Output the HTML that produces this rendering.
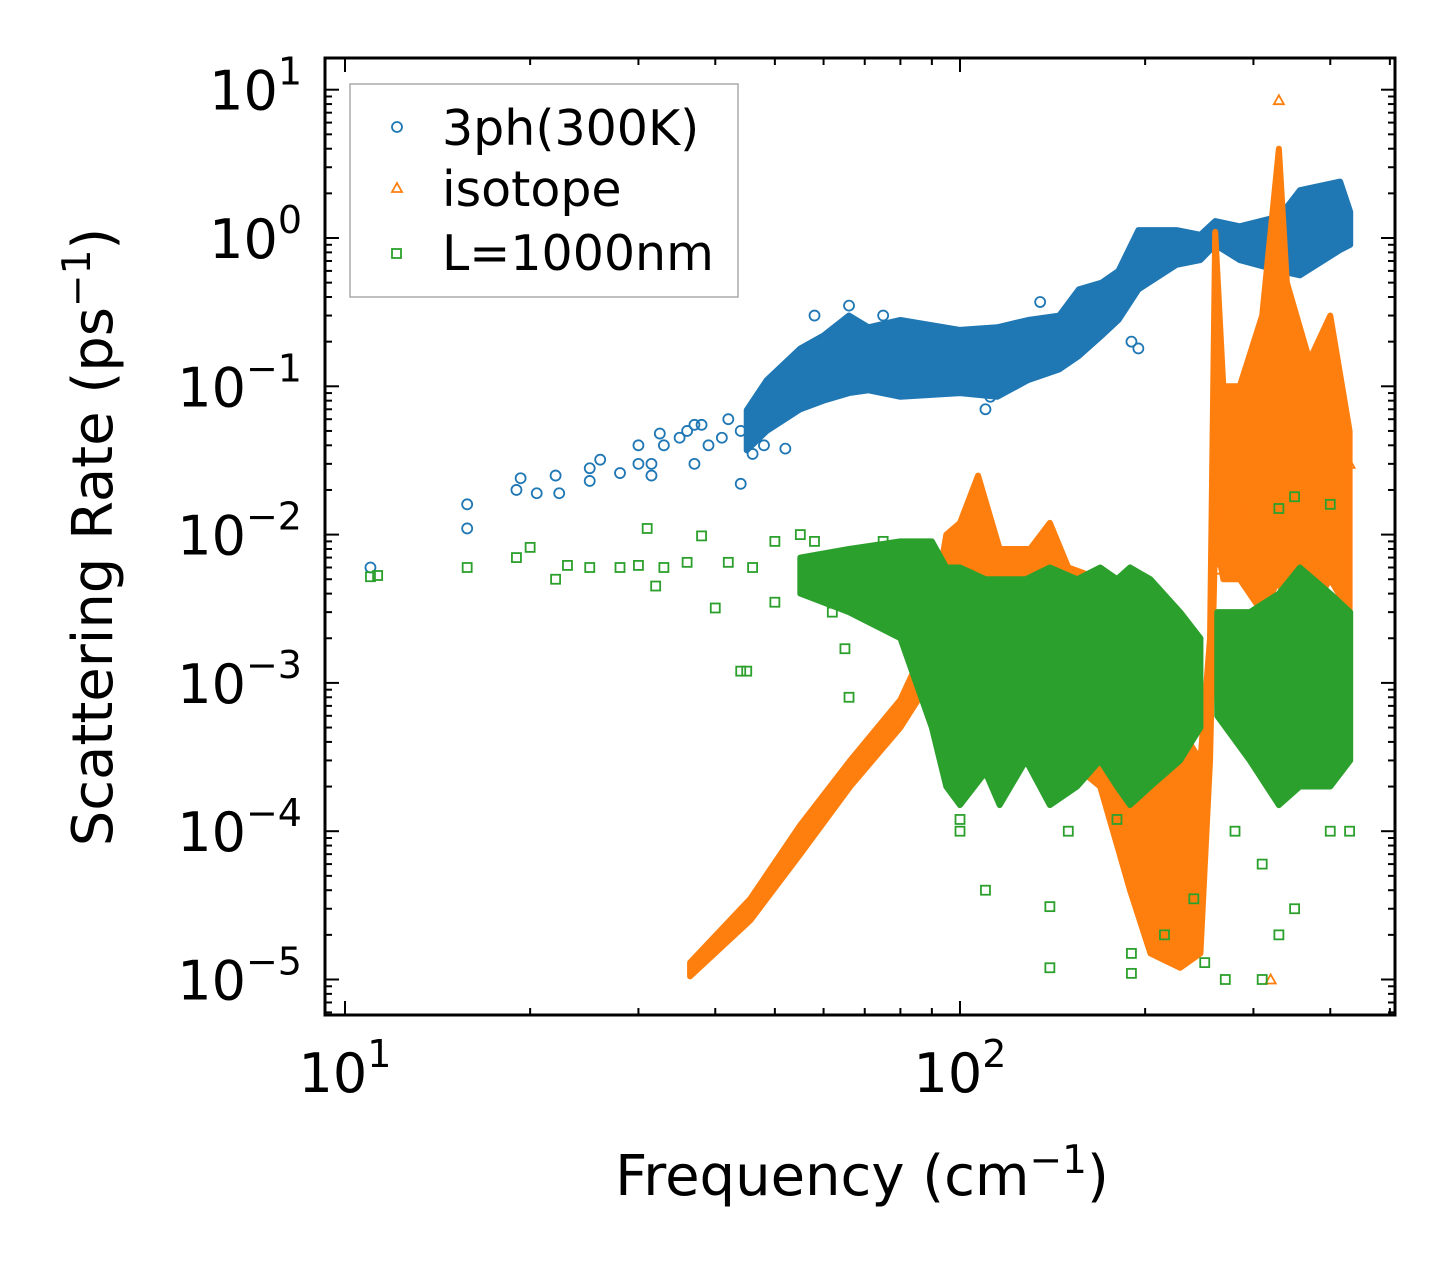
<!DOCTYPE html>
<html><head><meta charset="utf-8"><style>
html,body{margin:0;padding:0;background:#fff;}
svg{display:block;font-family:"DejaVu Sans","Liberation Sans",sans-serif;}
</style></head><body>
<svg id="chart" width="1455" height="1265" viewBox="0 0 1455 1265" xmlns="http://www.w3.org/2000/svg">
<rect x="0" y="0" width="1455" height="1265" fill="#fff"/>
<g id="marks"></g>
<g id="axes"></g>
<text transform="translate(112,537) rotate(-90)" text-anchor="middle" font-size="56">Scattering Rate (ps<tspan dy="-22" font-size="39">−1</tspan><tspan dy="22">)</tspan></text>
<text x="862" y="1195" text-anchor="middle" font-size="56">Frequency (cm<tspan dy="-22" font-size="39">−1</tspan><tspan dy="22">)</tspan></text>
<g>
<rect x="350" y="84" width="388" height="213" fill="#fff" fill-opacity="0.8" stroke="#aaa" stroke-width="1.5"/>
<circle cx="397" cy="127" r="5" fill="none" stroke="#1f77b4" stroke-width="1.8"/>
<text x="442" y="145" font-size="49">3ph(300K)</text>
<path d="M397,183 L402,192 L392,192 Z" fill="none" stroke="#ff7f0e" stroke-width="1.8"/>
<text x="442" y="206" font-size="49">isotope</text>
<rect x="392" y="249" width="9" height="9" fill="none" stroke="#2ca02c" stroke-width="1.8"/>
<text x="442" y="270" font-size="49">L=1000nm</text>
</g>
</svg>
<script>
// ---- data (frequency cm^-1, rate ps^-1) ----
const blueBandF  = [45,48.5,55,60,66,71,80,100,115,129,145,156,170,181,195,225,246,260,285,331,357,415,431];
const blueBandLo = [0.037,0.05,0.07,0.08,0.09,0.094,0.085,0.09,0.085,0.11,0.13,0.16,0.22,0.28,0.45,0.66,0.71,0.9,0.71,0.6,0.56,0.83,0.9];
const blueBandHi = [0.069,0.11,0.18,0.22,0.3,0.25,0.28,0.24,0.25,0.28,0.3,0.45,0.5,0.6,1.13,1.13,1.05,1.3,1.2,1.4,2.1,2.4,1.5];
const orangeBandF  = [36.4,45.6,55,66.3,80,89,95,100,107,116,130,140,150,169,189,204,228,246,255,260,268,285,310,330,340,370,400,430];
const orangeBandLo = [1.05e-5,2.5e-5,7e-5,2e-4,5e-4,1e-3,1e-3,6e-4,1e-3,5e-4,4e-4,5e-4,3e-4,2e-4,4e-5,1.5e-5,1.2e-5,1.5e-5,3e-4,1e-2,5e-3,5e-3,3e-3,5e-3,3e-3,3e-3,5e-3,3e-3];
const orangeBandHi = [1.3e-5,3.5e-5,1.1e-4,3e-4,7.7e-4,2e-3,1e-2,1.2e-2,2.5e-2,8e-3,8e-3,1.2e-2,6e-3,5e-3,1e-3,7e-4,5e-4,3e-4,2e-3,1.1,0.1,0.1,0.3,4,0.5,0.15,0.3,0.05];
const greenBandF  = [55,66,80,90,95,100,110,116,128,140,155,169,180,189,204,228,246];
const greenBandLo = [4e-3,3e-3,2e-3,5e-4,2e-4,1.5e-4,2.5e-4,1.5e-4,3e-4,1.5e-4,2e-4,3e-4,2e-4,1.5e-4,2e-4,3e-4,5e-4];
const greenBandHi = [7e-3,8e-3,9e-3,9e-3,6e-3,6e-3,5e-3,5e-3,5e-3,6e-3,5e-3,6e-3,5e-3,6e-3,5e-3,3e-3,2e-3];
const green2BandF  = [262,296,330,357,400,431];
const green2BandLo = [6e-4,3e-4,1.5e-4,2e-4,2e-4,3e-4];
const green2BandHi = [3e-3,3e-3,4e-3,6e-3,4e-3,3e-3];
const bluePts = [[11,0.006],[15.8,0.016],[15.8,0.011],[19,0.02],[19.3,0.024],[20.5,0.019],[22,0.025],[22.3,0.019],[25,0.028],[25,0.023],[26,0.032],[28,0.026],[30,0.04],[30,0.03],[31.5,0.025],[31.5,0.03],[32.5,0.048],[33,0.04],[35,0.045],[36,0.05],[37,0.03],[37,0.055],[38,0.055],[39,0.04],[41,0.045],[42,0.06],[44,0.022],[44,0.05],[46,0.035],[48,0.04],[50,0.085],[52,0.1],[52,0.038],[58,0.3],[66,0.35],[75,0.3],[135,0.37],[190,0.2],[195,0.18],[110,0.07],[112,0.085]];
const greenPts = [[11,0.0052],[11.3,0.0053],[15.8,0.006],[19,0.007],[20,0.0082],[22,0.005],[23,0.0062],[25,0.006],[28,0.006],[30,0.0062],[31,0.011],[32,0.0045],[33,0.006],[36,0.0065],[38,0.0098],[40,0.0032],[42,0.0065],[44,0.0012],[45,0.0012],[46,0.006],[50,0.009],[50,0.0035],[55,0.01],[58,0.009],[62,0.003],[65,0.0017],[66,0.0008],[70,0.0045],[75,0.009],[100,0.00012],[110,0.00004],[140,0.000031],[140,0.000012],[190,0.000015],[190,0.000011],[215,0.00002],[240,0.000035],[250,0.000013],[270,0.00001],[310,0.00001],[330,0.00002],[350,0.00003],[400,0.0001],[430,0.0001],[330,0.015],[350,0.018],[400,0.016],[100,0.0001],[150,0.0001],[180,0.00012],[280,0.0001],[310,0.00006]];
const orangePts = [[260,0.025],[262,0.015],[262,0.0058],[290,0.015],[320,0.00001],[400,0.02],[430,0.03],[330,8.5],[150,0.0058],[205,0.0007]];
const yTickExp = [1,0,-1,-2,-3,-4,-5];
const xTickExp = [1,2];

// ---- axes functions ----
const L=325,R=1395,T=58,B=1015;
const xScale = f => 345 + 615*(Math.log10(f)-1);
const yScale = v => 238 - 148.3*Math.log10(v);
const NS="http://www.w3.org/2000/svg";
const marks=document.getElementById('marks'), axes=document.getElementById('axes');
function mk(tag,attrs,parent){const e=document.createElementNS(NS,tag);for(const k in attrs)e.setAttribute(k,attrs[k]);parent.appendChild(e);return e;}

function band(F,Lo,Hi,color,name){
  let d='M'+F.map((f,i)=>xScale(f)+','+yScale(Hi[i])).join(' L');
  for(let i=F.length-1;i>=0;i--) d+=' L'+xScale(F[i])+','+yScale(Lo[i]);
  d+='Z';
  const p=mk('path',{d:d,fill:color,stroke:color,'stroke-width':6,'stroke-linejoin':'round'},marks);
  
  
}
function pts(P,color,shape,name){
  P.forEach(([f,v])=>{
    const x=xScale(f),y=yScale(v);let e;
    if(shape==='c') e=mk('circle',{cx:x,cy:y,r:5,fill:'none',stroke:color,'stroke-width':1.8},marks);
    else if(shape==='t') e=mk('path',{d:`M${x},${y-5} L${x+5},${y+4} L${x-5},${y+4} Z`,fill:'none',stroke:color,'stroke-width':1.8},marks);
    else e=mk('rect',{x:x-4.5,y:y-4.5,width:9,height:9,fill:'none',stroke:color,'stroke-width':1.8},marks);
    
    
  });
}
band(blueBandF,blueBandLo,blueBandHi,'#1f77b4','band-3ph');
pts(bluePts,'#1f77b4','c','point-3ph');
band(orangeBandF,orangeBandLo,orangeBandHi,'#ff7f0e','band-isotope');
pts(orangePts,'#ff7f0e','t','point-isotope');
band(greenBandF,greenBandLo,greenBandHi,'#2ca02c','band-boundary');
band(green2BandF,green2BandLo,green2BandHi,'#2ca02c','band-boundary-high');
pts(greenPts,'#2ca02c','s','point-boundary');

const fr=mk('rect',{x:L,y:T,width:R-L,height:B-T,fill:'none',stroke:'#000','stroke-width':3},axes);


for(let e=-6;e<=1;e++){
  for(let m=1;m<10;m++){
    const v=m*Math.pow(10,e), y=yScale(v);
    if(y<T||y>B) continue;
    const len=m===1?14:7;
    mk('line',{x1:L,x2:L+len,y1:y,y2:y,stroke:'#000','stroke-width':2},axes);
    mk('line',{x1:R,x2:R-len,y1:y,y2:y,stroke:'#000','stroke-width':2},axes);
  }
}
yTickExp.forEach(e=>{
  const y=yScale(Math.pow(10,e));
  const t=mk('text',{x:302,y:y+20,'text-anchor':'end','font-size':54},axes);
  
  
  t.innerHTML='10<tspan dy="-25" font-size="38">'+(e<0?'−'+(-e):e)+'</tspan>';
});
for(let e=0;e<=2;e++){
  for(let m=1;m<10;m++){
    const f=m*Math.pow(10,e), x=xScale(f);
    if(x<L||x>R) continue;
    const len=m===1?14:7;
    mk('line',{x1:x,x2:x,y1:B,y2:B-len,stroke:'#000','stroke-width':2},axes);
    mk('line',{x1:x,x2:x,y1:T,y2:T+len,stroke:'#000','stroke-width':2},axes);
  }
}
xTickExp.forEach(e=>{
  const x=xScale(Math.pow(10,e));
  const t=mk('text',{x:x,y:1092,'text-anchor':'middle','font-size':54},axes);
  
  
  t.innerHTML='10<tspan dy="-25" font-size="38">'+e+'</tspan>';
});
</script>
</body></html>
